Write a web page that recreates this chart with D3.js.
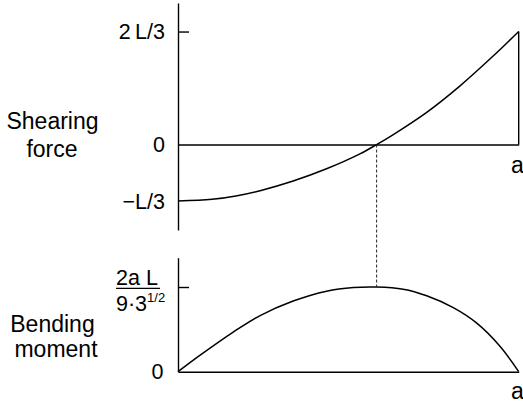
<!DOCTYPE html>
<html>
<head>
<meta charset="utf-8">
<script src="https://cdn.jsdelivr.net/npm/d3@7"></script>
<style>
  html, body { margin: 0; padding: 0; background: #fff; }
  svg { display: block; }
  text { font-family: "Liberation Sans", Arial, Helvetica, sans-serif; fill: #000; }
</style>
</head>
<body>
<svg id="chart" width="523" height="403"></svg>
<script>
// ---- data (positions along the span in units of a) ----
const shearT = [0, 0.1, 0.17, 0.241, 0.338, 0.436, 0.534, 0.583, 0.632, 0.730, 0.827, 0.925, 1];
// shearing force in units of L
const shearV = [-0.333, -0.323, -0.303, -0.272, -0.215, -0.143, -0.055, 0, 0.059, 0.19, 0.345, 0.522, 0.667];
const momentT = [0, 0.065, 0.162, 0.241, 0.338, 0.436, 0.515, 0.583, 0.661, 0.730, 0.808, 0.877, 0.945, 1];
// bending moment in units of aL
const momentM = [0, 0.025, 0.060, 0.085, 0.107, 0.122, 0.1275, 0.1283, 0.1250, 0.1150, 0.0970, 0.0735, 0.0385, 0];
const shearTickValues = [2/3, 0, -1/3];
const shearTickLabels = ["2\u2009L/3", "0", "\u2212L/3"];
const momentTickValues = [0.1283, 0];
const momentTickLabels = ["2a L", "0"]; // first is drawn as fraction 2aL / (9·3^(1/2))
const xEndLabel = "a";
const zeroCrossT = 0.583;
const maxMoment = 0.1283;

const svg = d3.select("#chart");
const x = d3.scaleLinear().domain([0, 1]).range([178, 518.7]);
const yS = d3.scaleLinear().domain([-0.504, 0.835]).range([230, 3]);
const yM = d3.scaleLinear().domain([0, 0.1727]).range([371.7, 257.7]);

const stroke = "#000";
const axW = 1.4;

// ---- shear axes ----
const gS = svg.append("g").attr("transform", `translate(${x(0)},0)`)
  .call(d3.axisLeft(yS).tickValues([2/3]).tickSizeInner(-11).tickSizeOuter(0).tickFormat(""));
gS.selectAll("path,line").attr("stroke", stroke).attr("stroke-width", axW);

const gSx = svg.append("g").attr("transform", `translate(0,${yS(0)})`)
  .call(d3.axisBottom(x).tickValues([]).tickSizeOuter(0));
gSx.selectAll("path,line").attr("stroke", stroke).attr("stroke-width", axW);

// vertical at x=a
svg.append("line").attr("x1", x(1)).attr("x2", x(1)).attr("y1", yS(0)).attr("y2", yS(shearV[shearV.length-1]))
  .attr("stroke", stroke).attr("stroke-width", axW);

const fs = 21.5;
svg.selectAll("text.st").data(shearTickValues).join("text")
  .attr("class", "st").attr("x", 165).attr("y", d => yS(d)).attr("dy", "0.36em")
  .attr("text-anchor", "end").attr("font-size", fs).text((d, i) => shearTickLabels[i]);

// shear curve
const lineS = d3.line().x((d, i) => x(shearT[i])).y(d => yS(d)).curve(d3.curveCatmullRom.alpha(0.5));
svg.append("path").attr("d", lineS(shearV)).attr("fill", "none").attr("stroke", stroke).attr("stroke-width", 1.5);

// ---- moment axes ----
const gM = svg.append("g").attr("transform", `translate(${x(0)},0)`)
  .call(d3.axisLeft(yM).tickValues([maxMoment]).tickSizeInner(-11).tickSizeOuter(0).tickFormat(""));
gM.selectAll("path,line").attr("stroke", stroke).attr("stroke-width", axW);
const gMx = svg.append("g").attr("transform", `translate(0,${yM(0)})`)
  .call(d3.axisBottom(x).tickValues([]).tickSizeOuter(0));
gMx.selectAll("path,line").attr("stroke", stroke).attr("stroke-width", axW);

const lineM = d3.line().x((d, i) => x(momentT[i])).y(d => yM(d)).curve(d3.curveCatmullRom.alpha(0.5));
svg.append("path").attr("d", lineM(momentM)).attr("fill", "none").attr("stroke", stroke).attr("stroke-width", 1.5);

// dashed connector
svg.append("line").attr("x1", x(zeroCrossT)).attr("x2", x(zeroCrossT))
  .attr("y1", yS(0)).attr("y2", yM(maxMoment))
  .attr("stroke", "#222").attr("stroke-width", 1).attr("stroke-dasharray", "3,2");

// moment tick labels
svg.append("text").attr("x", 163.5).attr("y", yM(0)).attr("dy", "0.36em")
  .attr("text-anchor", "end").attr("font-size", fs).text(momentTickLabels[1]);
const yF = yM(maxMoment);
svg.append("text").attr("x", 116).attr("y", yF - 2.5).attr("font-size", fs).text(momentTickLabels[0]);
svg.append("line").attr("x1", 116).attr("x2", 160).attr("y1", yF + 1.3).attr("y2", yF + 1.3)
  .attr("stroke", stroke).attr("stroke-width", 1.3);
const den = svg.append("text").attr("x", 116).attr("y", yF + 23.5).attr("font-size", fs);
den.append("tspan").text("9\u00B73");
den.append("tspan").attr("font-size", 13).attr("dy", -8.5).text("1/2");

// x end labels
svg.append("text").attr("x", 517.5).attr("y", 173).attr("text-anchor", "middle").attr("font-size", 23).text(xEndLabel);
svg.append("text").attr("x", 517.5).attr("y", 399).attr("text-anchor", "middle").attr("font-size", 23).text(xEndLabel);

// axis titles
const ft = 23;
svg.append("text").attr("x", 52.5).attr("y", 129.3).attr("text-anchor", "middle").attr("font-size", ft).text("Shearing");
svg.append("text").attr("x", 52).attr("y", 156.5).attr("text-anchor", "middle").attr("font-size", ft).text("force");
svg.append("text").attr("x", 52.5).attr("y", 332).attr("text-anchor", "middle").attr("font-size", ft).text("Bending");
svg.append("text").attr("x", 56).attr("y", 356.7).attr("text-anchor", "middle").attr("font-size", ft).text("moment");
</script>
</body>
</html>
